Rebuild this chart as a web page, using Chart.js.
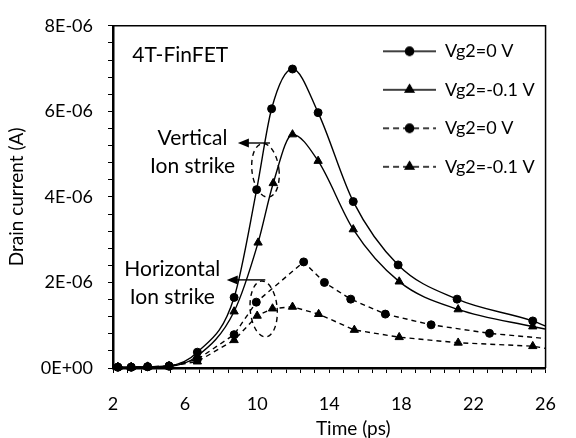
<!DOCTYPE html>
<html><head><meta charset="utf-8">
<script src="https://cdn.jsdelivr.net/npm/chart.js@4/dist/chart.umd.min.js"></script>
<style>html,body{margin:0;padding:0;background:#fff}canvas{display:block}</style>
</head><body>
<canvas id="c" width="576" height="438"></canvas>
<script>
// ---- data (time in ps, drain current in A) ----
const seriesLabels = ['Vg2=0 V', 'Vg2=-0.1 V', 'Vg2=0 V', 'Vg2=-0.1 V'];
// Vertical ion strike (solid lines)
const tVert0  = [2.27, 3.01, 3.92, 5.11, 6.68, 8.72, 9.97, 10.80, 11.96, 13.38, 15.33, 17.82, 21.09, 25.29, 26.0];
const iVert0  = [0.02e-6, 0.02e-6, 0.03e-6, 0.05e-6, 0.37e-6, 1.65e-6, 4.17e-6, 6.06e-6, 6.99e-6, 5.97e-6, 3.89e-6, 2.41e-6, 1.61e-6, 1.10e-6, 0.98e-6];
const tVert1  = [2.27, 3.01, 3.92, 5.11, 6.68, 8.72, 10.05, 10.89, 11.96, 13.38, 15.33, 17.88, 21.15, 25.29, 26.0];
const iVert1  = [0.02e-6, 0.02e-6, 0.03e-6, 0.04e-6, 0.28e-6, 1.32e-6, 2.93e-6, 4.32e-6, 5.46e-6, 4.84e-6, 3.24e-6, 2.02e-6, 1.37e-6, 0.97e-6, 0.91e-6];
// Horizontal ion strike (dashed lines)
const tHor0   = [2.27, 3.01, 3.92, 5.11, 6.68, 8.72, 9.95, 12.58, 13.73, 15.19, 17.11, 19.65, 22.89, 26.0];
const iHor0   = [0.02e-6, 0.02e-6, 0.03e-6, 0.04e-6, 0.20e-6, 0.78e-6, 1.54e-6, 2.48e-6, 2.00e-6, 1.61e-6, 1.26e-6, 1.01e-6, 0.81e-6, 0.69e-6];
const tHor1   = [2.27, 3.01, 3.92, 5.11, 6.68, 8.72, 10.00, 10.85, 11.96, 13.41, 15.39, 17.88, 21.15, 25.29, 26.0];
const iHor1   = [0.02e-6, 0.02e-6, 0.03e-6, 0.04e-6, 0.15e-6, 0.65e-6, 1.22e-6, 1.39e-6, 1.43e-6, 1.26e-6, 0.89e-6, 0.72e-6, 0.59e-6, 0.51e-6, 0.46e-6];

const xTickLabels = ['2', '6', '10', '14', '18', '22', '26'];
const yTickLabels = ['0E+00', '2E-06', '4E-06', '6E-06', '8E-06'];
const xAxisTitle = 'Time (ps)';
const yAxisTitle = 'Drain current (A)';

// ---- annotations (data coordinates) ----
const noteTexts = [
  {text: '4T-FinFET', x: 3.07, y: 7.32e-6, align: 'left'},
  {text: 'Vertical', x: 6.41, y: 5.37e-6, align: 'center'},
  {text: 'Ion strike', x: 6.41, y: 4.72e-6, align: 'center'},
  {text: 'Horizontal', x: 5.29, y: 2.32e-6, align: 'center'},
  {text: 'Ion strike', x: 5.29, y: 1.65e-6, align: 'center'}
];
const noteArrows = [
  {x1: 10.71, x2: 8.93, y: 5.26e-6},
  {x1: 10.45, x2: 8.31, y: 2.06e-6}
];
const noteEllipses = [
  {x: 10.46, y: 4.62e-6, rx: 13.5, ry: 27, rot: -0.12},
  {x: 10.36, y: 1.38e-6, rx: 13.5, ry: 28, rot: -0.08}
];

const FONT = 'Lato';
const FS = 18;
const NOTE_FS = 21;
const TITLE_FS = 19;

function pts(t, v) { return t.map((x, k) => ({x: x, y: v[k]})); }

function makeDataset(label, t, v, style, dashed, smooth) {
  const last = t.length - 1;
  return {
    label: label,
    data: pts(t, v),
    borderColor: '#000',
    backgroundColor: '#000',
    borderWidth: 1.4,
    borderDash: dashed ? [5, 4] : [],
    tension: smooth ? 0.4 : 0,
    cubicInterpolationMode: smooth ? 'monotone' : 'default',
    pointStyle: style,
    pointRadius: c => (c.dataIndex === last ? 0 : (style === 'triangle' ? 4.8 : 4)),
    pointBorderWidth: 1,
    pointBorderColor: '#000',
    pointBackgroundColor: '#000',
    pointHoverRadius: 0,
    clip: {left: 10, top: 10, right: 0, bottom: 10}
  };
}

const datasets = [
  makeDataset(seriesLabels[0], tVert0, iVert0, 'circle', false, true),
  makeDataset(seriesLabels[1], tVert1, iVert1, 'triangle', false, true),
  makeDataset(seriesLabels[2], tHor0, iHor0, 'circle', true, false),
  makeDataset(seriesLabels[3], tHor1, iHor1, 'triangle', true, false)
];

// legend icons: line sample with marker
function legendIcon(style, dashed, r) {
  const cv = document.createElement('canvas');
  cv.width = 53; cv.height = 14;
  const g = cv.getContext('2d');
  g.strokeStyle = '#000'; g.fillStyle = '#000'; g.lineWidth = 1.4;
  g.setLineDash(dashed ? [6, 4] : []);
  g.beginPath(); g.moveTo(0, 7); g.lineTo(53, 7); g.stroke();
  g.setLineDash([]);
  Chart.helpers.drawPoint(g, {pointStyle: style, radius: r, rotation: 0, borderWidth: 1}, 26.5, 7);
  g.fill(); g.stroke();
  return cv;
}
const legendIcons = [
  legendIcon('circle', false, 4), legendIcon('triangle', false, 4.8),
  legendIcon('circle', true, 4), legendIcon('triangle', true, 4.8)
];

function isMultiple(v, base, step) {
  const q = (v - base) / step;
  return Math.abs(q - Math.round(q)) < 1e-6;
}

const framePlugin = {
  id: 'frame',
  afterLayout(chart) {
    const lg = chart.legend, ca = chart.chartArea;
    if (lg) {
      lg.left = ca.right - 183; lg.right = ca.right;
      lg.top = ca.top - 4; lg.bottom = ca.bottom;
      lg.width = lg.right - lg.left; lg.height = lg.bottom - lg.top;
    }
    const xs = chart.scales.x;
    if (xs && !xs._titleShifted) {
      const orig = xs.drawTitle.bind(xs);
      xs.drawTitle = function () {
        const c = this.ctx; c.save(); c.translate(24, 0); orig(); c.restore();
      };
      xs._titleShifted = true;
    }
  },
  beforeDatasetsDraw(chart) {
    const {ctx, chartArea: ca} = chart;
    ctx.save();
    ctx.strokeStyle = '#000';
    ctx.lineWidth = 1.5;
    ctx.beginPath();
    ctx.moveTo(ca.left, ca.top); ctx.lineTo(ca.right, ca.top); ctx.lineTo(ca.right, ca.bottom);
    ctx.stroke();
    ctx.restore();
  },
  afterDatasetsDraw(chart) {
    const {ctx} = chart;
    const xs = chart.scales.x, ys = chart.scales.y;
    ctx.save();
    ctx.fillStyle = '#000'; ctx.strokeStyle = '#000';
    ctx.font = NOTE_FS + 'px ' + FONT;
    ctx.textBaseline = 'middle';
    noteTexts.forEach(n => {
      ctx.textAlign = n.align;
      ctx.fillText(n.text, xs.getPixelForValue(n.x), ys.getPixelForValue(n.y));
    });
    ctx.lineWidth = 1.4;
    noteArrows.forEach(a => {
      const x1 = xs.getPixelForValue(a.x1), x2 = xs.getPixelForValue(a.x2), y = ys.getPixelForValue(a.y);
      ctx.beginPath(); ctx.moveTo(x1, y); ctx.lineTo(x2 + 8, y); ctx.stroke();
      ctx.beginPath(); ctx.moveTo(x2, y); ctx.lineTo(x2 + 11, y - 4.5); ctx.lineTo(x2 + 11, y + 4.5); ctx.closePath(); ctx.fill();
    });
    ctx.setLineDash([5, 4]);
    noteEllipses.forEach(e => {
      ctx.beginPath();
      ctx.ellipse(xs.getPixelForValue(e.x), ys.getPixelForValue(e.y), e.rx, e.ry, e.rot, 0, Math.PI * 2);
      ctx.stroke();
    });
    ctx.restore();
  }
};

new Chart(document.getElementById('c'), {
  type: 'line',
  data: {datasets: datasets},
  plugins: [framePlugin],
  options: {
    responsive: false,
    animation: false,
    events: [],
    layout: {padding: {left: 0, right: 13, top: 18, bottom: 0}},
    plugins: {
      tooltip: {enabled: false},
      legend: {
        position: 'chartArea',
        align: 'start',
        labels: {
          usePointStyle: true,
          pointStyleWidth: 53,
          padding: 20.5,
          color: '#000',
          font: {family: FONT, size: FS},
          generateLabels: chart => chart.data.datasets.map((d, i) => ({
            text: d.label, pointStyle: legendIcons[i], fillStyle: '#000', strokeStyle: '#000',
            lineWidth: 0, hidden: false, datasetIndex: i, fontColor: '#000'
          }))
        }
      }
    },
    scales: {
      x: {
        type: 'linear', min: 2, max: 26,
        afterFit: s => { s.height = 70; },
        border: {display: true, color: '#000', width: 2.5},
        grid: {display: true, drawOnChartArea: false, drawTicks: true, tickLength: 5, color: '#000', lineWidth: 1},
        ticks: {
          stepSize: 0.8, padding: 20, color: '#000', autoSkip: false, maxRotation: 0,
          font: {family: FONT, size: FS},
          callback: v => isMultiple(v, 2, 4) ? xTickLabels[Math.round((v - 2) / 4)] : ''
        },
        title: {display: true, text: xAxisTitle, color: '#000', font: {family: FONT, size: TITLE_FS}, padding: {top: 0, bottom: -2}}
      },
      y: {
        type: 'linear', min: 0, max: 8e-6,
        afterFit: s => { s.width = 113; },
        border: {display: true, color: '#000', width: 2.5},
        grid: {display: true, drawOnChartArea: false, drawTicks: true, tickLength: 5, color: '#000', lineWidth: 1},
        ticks: {
          stepSize: 0.4e-6, padding: 15, color: '#000', autoSkip: false,
          font: {family: FONT, size: FS},
          callback: v => isMultiple(v, 0, 2e-6) ? yTickLabels[Math.round(v / 2e-6)] : ''
        },
        title: {display: true, text: yAxisTitle, color: '#000', font: {family: FONT, size: TITLE_FS}, padding: {top: 5, bottom: 0}}
      }
    }
  }
});
</script>
</body></html>
